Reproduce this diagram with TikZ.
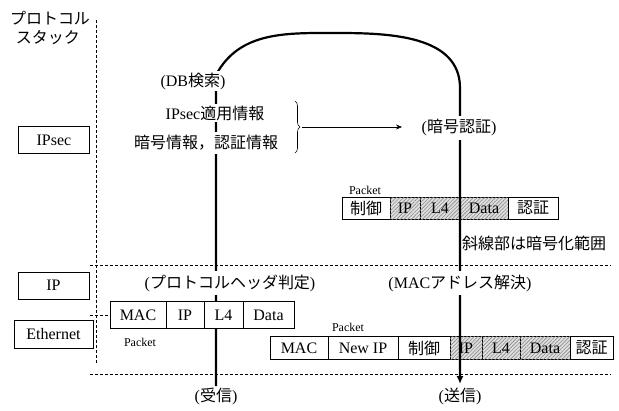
\documentclass[tikz,border=0pt]{standalone}
\usepackage{fontspec}
\setmainfont{Liberation Serif}
\newfontfamily\jpf{Noto Sans CJK JP}
\newcommand\J[1]{{\jpf #1}}
\usetikzlibrary{patterns.meta,decorations.pathreplacing,arrows.meta}
\begin{document}
\begin{tikzpicture}[x=1pt,y=-1pt,
  txt/.style={font=\fontsize{16}{18}\selectfont, inner sep=0pt},
  wtxt/.style={txt, fill=white, inner sep=4pt},
  small/.style={font=\fontsize{12}{14}\selectfont, inner sep=0pt},
  cellbase/.style={draw, line width=0.6pt, fill=white, font=\fontsize{16}{18}\selectfont, inner sep=0pt, outer sep=0pt, anchor=west},
  rcell/.style={cellbase, minimum height=27pt},
  ucell/.style={cellbase, minimum height=22pt},
  bcell/.style={cellbase, minimum height=23pt},
  hatch/.style={fill=gray!25, postaction={pattern={Lines[angle=45,distance=2.6pt,line width=0.6pt]}, pattern color=gray!90}},
  layerbox/.style={draw, line width=0.7pt, fill=white, font=\fontsize{16}{18}\selectfont, inner sep=2pt, minimum height=27pt},
  dline/.style={line width=0.6pt, dash pattern=on 3pt off 2pt},
  flow/.style={line width=2.2pt},
]
\useasboundingbox (0,0) rectangle (619,410);

% dashed layer lines
\coordinate (v1) at (96,20);
\coordinate (v2) at (96,363);
\coordinate (h1a) at (90,265);
\coordinate (h1b) at (611,265);
\coordinate (h2a) at (90,374);
\coordinate (h2b) at (611,374);
\draw[dline] (v1) -- (v2);
\draw[dline] (h1a) -- (h1b);
\draw[dline] (h2a) -- (h2b);

% upper packet (IPsec)
\node[small] (upk) at (365,190) {Packet};
\node[ucell, minimum width=48pt] (uctl) at (342,208) {\J{制御}};
\node[ucell, hatch, minimum width=30pt] (uip) at (uctl.east) {IP};
\node[ucell, hatch, minimum width=40pt] (ul4) at (uip.east) {L4};
\node[ucell, hatch, minimum width=48pt] (udata) at (ul4.east) {Data};
\node[ucell, minimum width=50pt] (uauth) at (udata.east) {\J{認証}};
\node[txt, anchor=west] (note) at (462,243) {\J{斜線部は暗号化範囲}};

% bottom packet (send)
\node[small] (bpk) at (348,327) {Packet};
\node[bcell, minimum width=58pt] (bmac) at (270,348) {MAC};
\node[bcell, minimum width=70pt] (bnip) at (bmac.east) {New IP};
\node[bcell, minimum width=52pt] (bctl) at (bnip.east) {\J{制御}};
\node[bcell, hatch, minimum width=32pt] (bip) at (bctl.east) {IP};
\node[bcell, hatch, minimum width=38pt] (bl4) at (bip.east) {L4};
\node[bcell, hatch, minimum width=50pt] (bdata) at (bl4.east) {Data};
\node[bcell, minimum width=43pt] (bauth) at (bdata.east) {\J{認証}};

% main flow path
\coordinate (pa) at (216,386);
\coordinate (pb) at (216,75);
\coordinate (ptop) at (338,33);
\coordinate (pc) at (460,88);
\coordinate (pd) at (460,384);
\draw[flow, -{Latex[length=8pt,width=7pt]}] (pa) -- (pb) to[out=62,in=180] (ptop) to[out=0,in=90] (pc) -- (pd);

% labels over the path
\node[txt] (rx) at (216,396) {(\J{受信})};
\node[txt] (tx) at (460,396) {(\J{送信})};
\node[wtxt, inner sep=2pt] (db) at (193,81) {(DB\J{検索})};
\node[wtxt, inner sep=2pt] (info1) at (215,113) {IPsec\J{適用情報}};
\node[wtxt, inner sep=3pt] (info2) at (206,143) {\J{暗号情報，認証情報}};
\node[wtxt] (enc) at (459,128) {(\J{暗号認証})};
\node[wtxt] (hdr) at (230,283) {(\J{プロトコルヘッダ判定})};
\node[wtxt] (mac) at (460,283) {(MAC\J{アドレス解決})};

% receive packet
\node[small] (rpk) at (140,342) {Packet};
\node[rcell, minimum width=56pt] (rmac) at (110,315) {MAC};
\node[rcell, minimum width=38pt] (rip) at (rmac.east) {IP};
\node[rcell, minimum width=39pt] (rl4) at (rip.east) {L4};
\node[rcell, minimum width=51pt] (rdata) at (rl4.east) {Data};
\coordinate (eth) at (90,315);
\draw[dline] (eth) -- (rmac.west);

% protocol stack column
\node[txt] (ps1) at (50,18) {\J{プロトコル}};
\node[txt] (ps2) at (48,38) {\J{スタック}};
\node[layerbox, minimum width=71pt] (lipsec) at (54,140) {IPsec};
\node[layerbox, minimum width=71pt] (lip) at (53.5,285.5) {IP};
\node[layerbox, minimum width=79pt, minimum height=28pt] (leth) at (53.5,334) {Ethernet};

% brace and arrow
\coordinate (bra) at (295,101);
\coordinate (brb) at (295,153);
\coordinate (brt) at (302,127);
\coordinate (arr) at (402,127);
\draw[decorate, decoration={brace, amplitude=5pt}, line width=0.6pt] (bra) -- (brb);
\draw[line width=0.6pt, -{Stealth[length=6pt,width=5pt]}] (brt) -- (arr);
\end{tikzpicture}
\end{document}
